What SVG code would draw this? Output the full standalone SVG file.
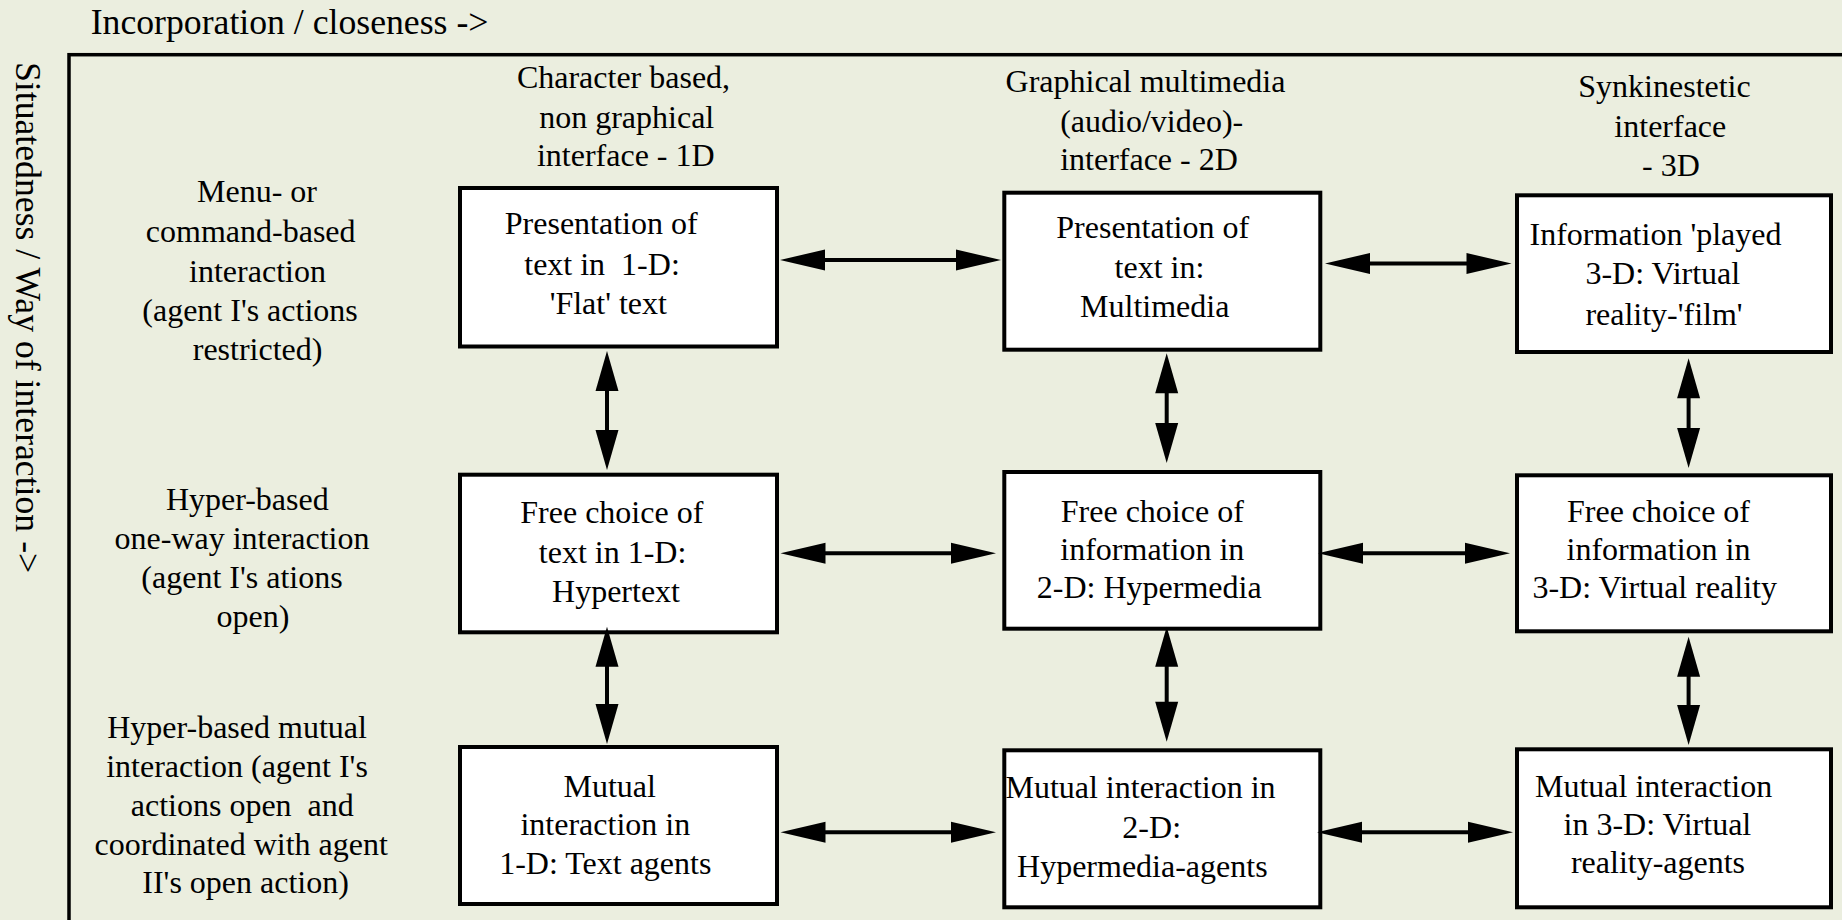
<svg xmlns="http://www.w3.org/2000/svg" width="1842" height="920" viewBox="0 0 1842 920">
<style>
text{font-family:"Liberation Serif","Times New Roman",serif;font-size:32px;fill:#000;text-anchor:middle}
.axis{font-size:35.7px;text-anchor:start}
.box{fill:#fff;stroke:#000;stroke-width:4}
.ln{stroke:#000;stroke-width:4;fill:none}
.hd{fill:#000;stroke:none}
</style>
<rect x="0" y="0" width="1842" height="920" fill="#EBEEDF"/>
<g id="frame">
<rect x="69" y="54.7" width="1800" height="900" fill="none" stroke="#000" stroke-width="3.5"/>
</g>
<g id="axis-labels">
<text class="axis" x="90.7" y="34.3">Incorporation / closeness -&gt;</text>
<text class="axis" transform="translate(16,62) rotate(90)" x="0" y="0">Situatedness / Way of interaction -&gt;</text>
</g>
<g id="col-headers">
<text x="623.5" y="88.3">Character based,</text>
<text x="626.7" y="127.7">non graphical</text>
<text x="625.8" y="166">interface - 1D</text>
<text x="1145.5" y="91.7">Graphical multimedia</text>
<text x="1151.7" y="131.7">(audio/video)-</text>
<text x="1149" y="170">interface - 2D</text>
<text x="1664.5" y="96.7">Synkinestetic</text>
<text x="1670.3" y="136.7">interface</text>
<text x="1671" y="176">- 3D</text>
</g>
<g id="row-labels">
<text x="257" y="202.3">Menu- or</text>
<text x="250.7" y="241.7">command-based</text>
<text x="257.5" y="281.7">interaction</text>
<text x="250" y="320.5">(agent I's actions</text>
<text x="257.6" y="359.5">restricted)</text>
<text x="247.3" y="510">Hyper-based</text>
<text x="242" y="549.3">one-way interaction</text>
<text x="242" y="588.3">(agent I's ations</text>
<text x="252.9" y="626.7">open)</text>
<text x="237" y="738.3">Hyper-based mutual</text>
<text x="237" y="776.7">interaction (agent I's</text>
<text x="242.3" y="816" xml:space="preserve">actions open  and</text>
<text x="241.2" y="855">coordinated with agent</text>
<text x="245.6" y="893.3">II's open action)</text>
</g>
<g id="n-r1c1">
<rect class="box" x="460" y="188" width="317" height="158.5"/>
<text x="601.2" y="234">Presentation of</text>
<text x="602" y="275" xml:space="preserve">text in  1-D:</text>
<text x="608.3" y="314">'Flat' text</text>
</g>
<g id="n-r1c2">
<rect class="box" x="1004.3" y="192.7" width="316" height="157"/>
<text x="1152.7" y="238.3">Presentation of</text>
<text x="1159.5" y="278.3">text in:</text>
<text x="1154.7" y="317.3">Multimedia</text>
</g>
<g id="n-r1c3">
<rect class="box" x="1517" y="195.3" width="314" height="156.7"/>
<text x="1655.5" y="245">Information 'played</text>
<text x="1662.8" y="284">3-D: Virtual</text>
<text x="1664" y="325">reality-'film'</text>
</g>
<g id="n-r2c1">
<rect class="box" x="460" y="474.7" width="317" height="157.6"/>
<text x="611.8" y="523.3">Free choice of</text>
<text x="612.6" y="562.7">text in 1-D:</text>
<text x="616" y="601.7">Hypertext</text>
</g>
<g id="n-r2c2">
<rect class="box" x="1004.3" y="472" width="316" height="156.7"/>
<text x="1152.3" y="521.7">Free choice of</text>
<text x="1152.3" y="560">information in</text>
<text x="1149.2" y="598.3">2-D: Hypermedia</text>
</g>
<g id="n-r2c3">
<rect class="box" x="1517" y="475.3" width="314" height="156"/>
<text x="1658.5" y="521.7">Free choice of</text>
<text x="1658.5" y="560">information in</text>
<text x="1654.7" y="598.3">3-D: Virtual reality</text>
</g>
<g id="n-r3c1">
<rect class="box" x="460" y="747" width="317" height="157"/>
<text x="609.7" y="796.7">Mutual</text>
<text x="605.3" y="835">interaction in</text>
<text x="605.3" y="874.3">1-D: Text agents</text>
</g>
<g id="n-r3c2">
<rect class="box" x="1004.3" y="750.3" width="316" height="157"/>
<text x="1140.5" y="798.3">Mutual interaction in</text>
<text x="1151.7" y="838.3">2-D:</text>
<text x="1142.3" y="876.7">Hypermedia-agents</text>
</g>
<g id="n-r3c3">
<rect class="box" x="1517" y="749.3" width="314" height="158"/>
<text x="1653.6" y="796.7">Mutual interaction</text>
<text x="1657.4" y="835">in 3-D: Virtual</text>
<text x="1658" y="873.3">reality-agents</text>
</g>
<g id="connectors">
<line class="ln" x1="820" y1="260" x2="961" y2="260"/>
<polygon class="hd" points="780,260 825,249.5 825,270.5"/>
<polygon class="hd" points="1001,260 956,249.5 956,270.5"/>
<line class="ln" x1="1365" y1="263.5" x2="1471.5" y2="263.5"/>
<polygon class="hd" points="1325,263.5 1370,253 1370,274"/>
<polygon class="hd" points="1511.5,263.5 1466.5,253 1466.5,274"/>
<line class="ln" x1="820.5" y1="553.3" x2="956" y2="553.3"/>
<polygon class="hd" points="780.5,553.3 825.5,542.8 825.5,563.8"/>
<polygon class="hd" points="996,553.3 951,542.8 951,563.8"/>
<line class="ln" x1="1358" y1="553.3" x2="1470" y2="553.3"/>
<polygon class="hd" points="1318,553.3 1363,542.8 1363,563.8"/>
<polygon class="hd" points="1510,553.3 1465,542.8 1465,563.8"/>
<line class="ln" x1="820.5" y1="832.3" x2="956" y2="832.3"/>
<polygon class="hd" points="780.5,832.3 825.5,821.8 825.5,842.8"/>
<polygon class="hd" points="996,832.3 951,821.8 951,842.8"/>
<line class="ln" x1="1357" y1="832.3" x2="1473" y2="832.3"/>
<polygon class="hd" points="1317,832.3 1362,821.8 1362,842.8"/>
<polygon class="hd" points="1513,832.3 1468,821.8 1468,842.8"/>
<line class="ln" x1="607" y1="386" x2="607" y2="435"/>
<polygon class="hd" points="607,351 595.5,391 618.5,391"/>
<polygon class="hd" points="607,470 595.5,430 618.5,430"/>
<line class="ln" x1="1166.7" y1="388" x2="1166.7" y2="428"/>
<polygon class="hd" points="1166.7,353.3 1155.2,393.3 1178.2,393.3"/>
<polygon class="hd" points="1166.7,463 1155.2,423 1178.2,423"/>
<line class="ln" x1="1688.6" y1="393" x2="1688.6" y2="433"/>
<polygon class="hd" points="1688.6,358.3 1677.1,398.3 1700.1,398.3"/>
<polygon class="hd" points="1688.6,468 1677.1,428 1700.1,428"/>
<line class="ln" x1="607" y1="661" x2="607" y2="709"/>
<polygon class="hd" points="607,626.7 595.5,666.7 618.5,666.7"/>
<polygon class="hd" points="607,744 595.5,704 618.5,704"/>
<line class="ln" x1="1166.7" y1="661" x2="1166.7" y2="707"/>
<polygon class="hd" points="1166.7,626.7 1155.2,666.7 1178.2,666.7"/>
<polygon class="hd" points="1166.7,741.7 1155.2,701.7 1178.2,701.7"/>
<line class="ln" x1="1688.6" y1="671" x2="1688.6" y2="710"/>
<polygon class="hd" points="1688.6,636.7 1677.1,676.7 1700.1,676.7"/>
<polygon class="hd" points="1688.6,745 1677.1,705 1700.1,705"/>
</g>
</svg>
